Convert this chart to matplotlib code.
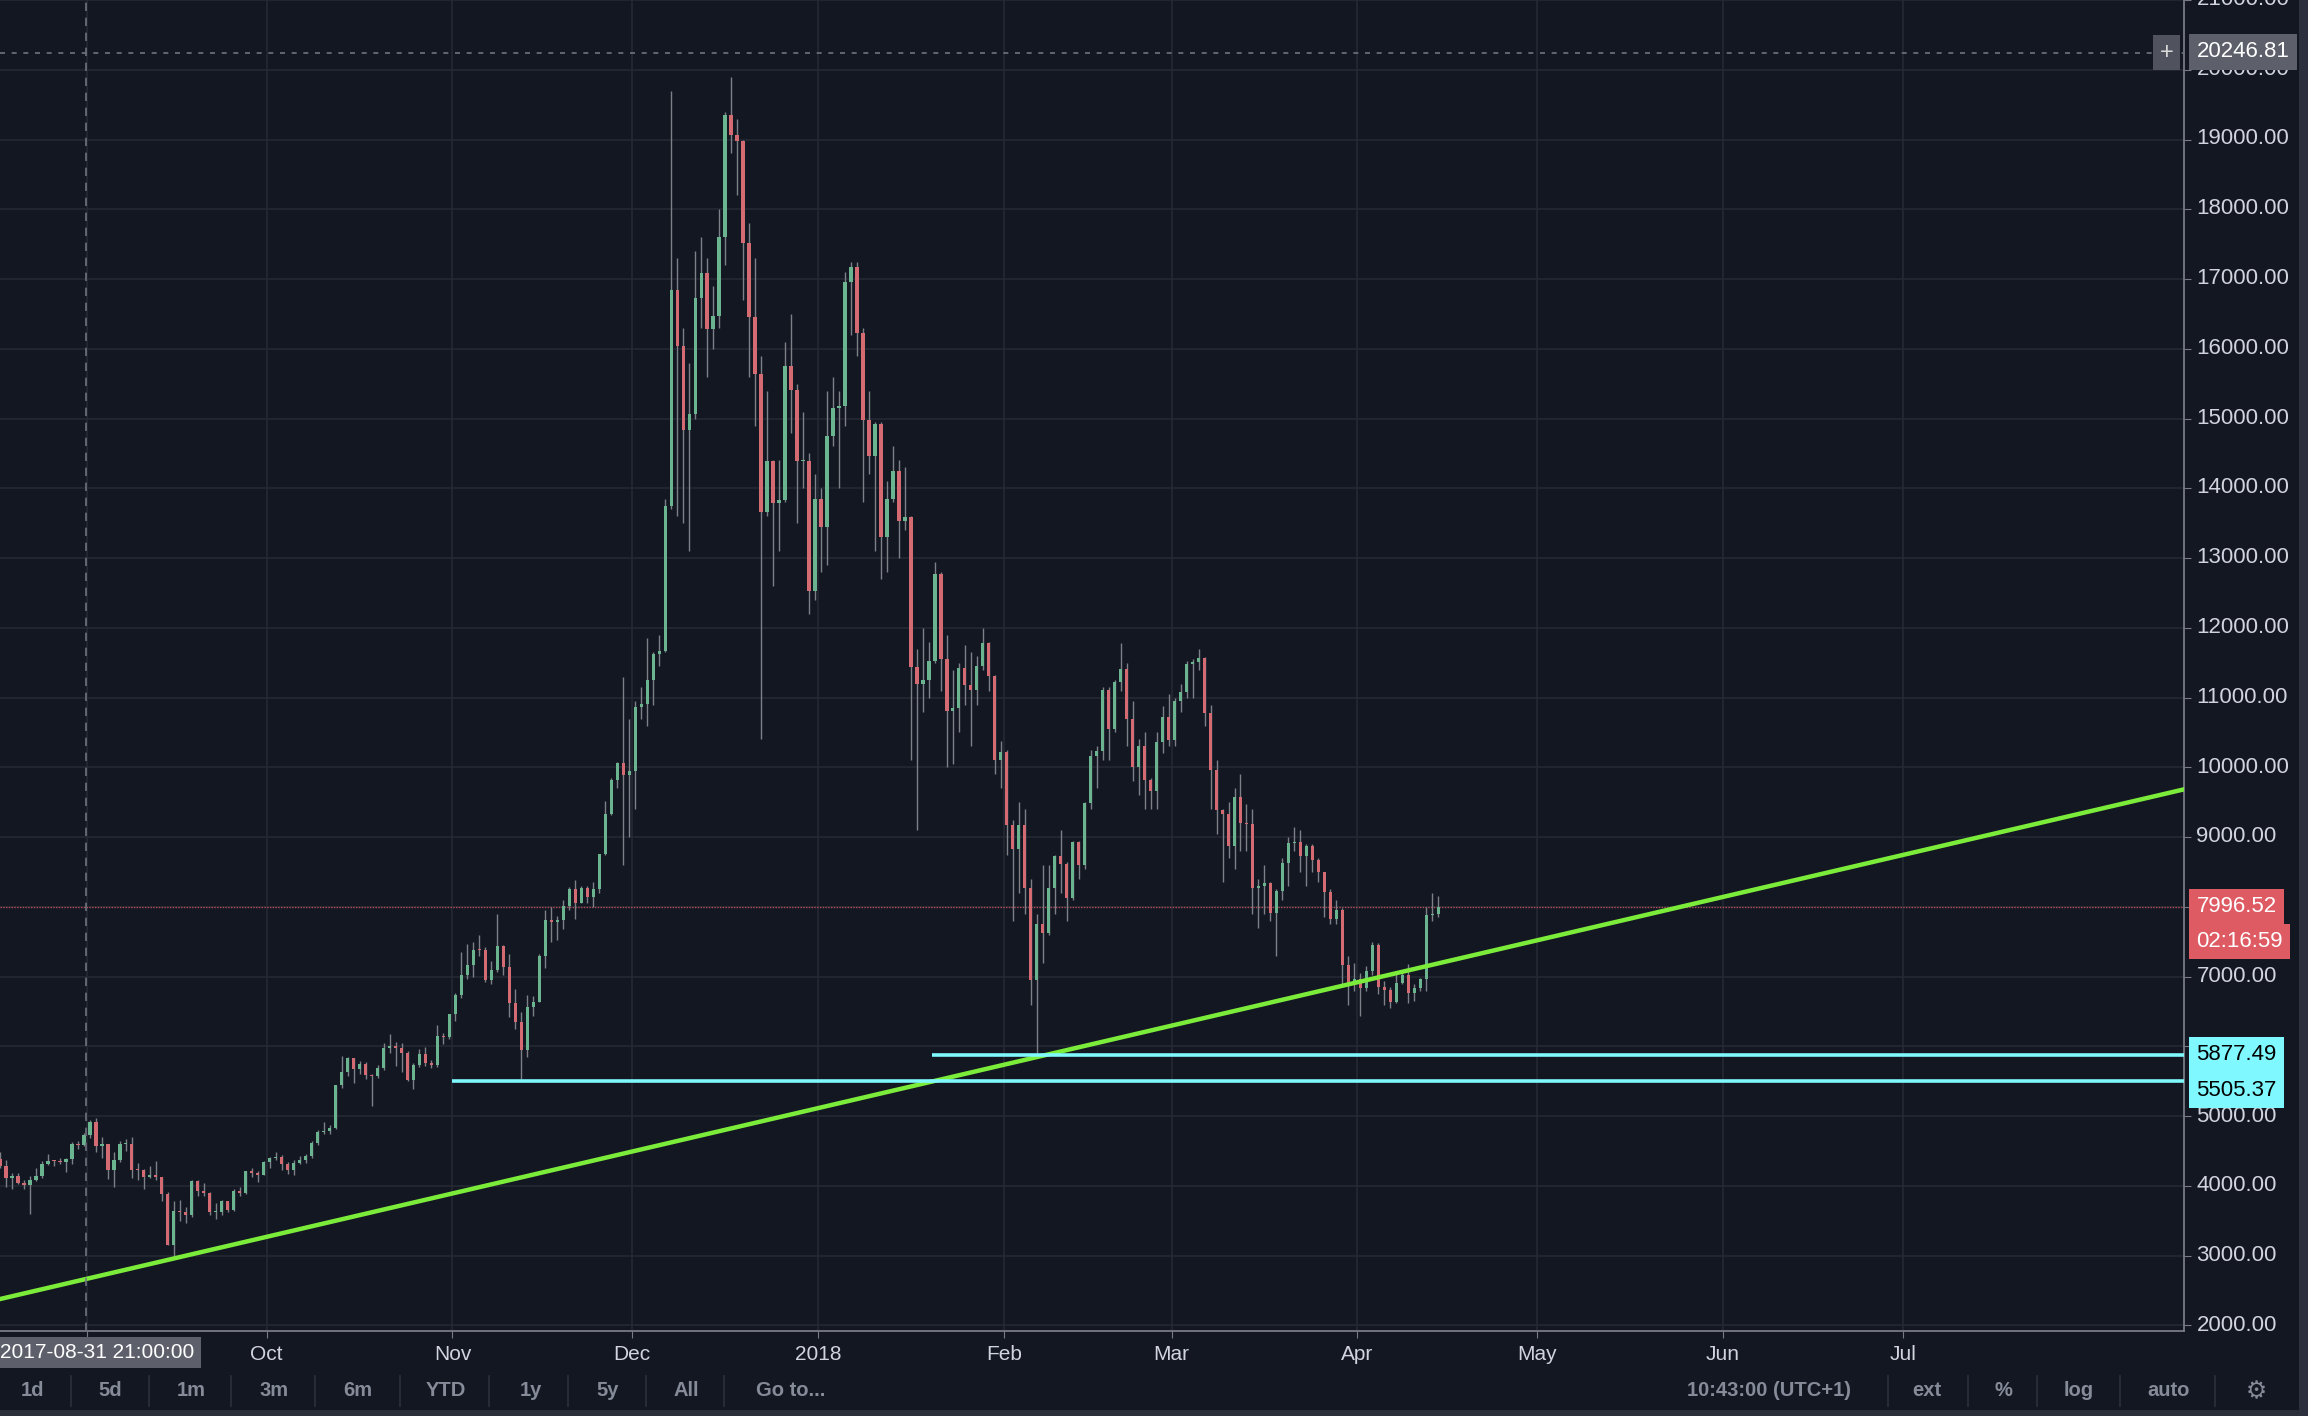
import numpy as np
import pandas as pd
import matplotlib
matplotlib.use("Agg")
import matplotlib.pyplot as plt
import matplotlib.dates as mdates
from matplotlib.lines import Line2D
from matplotlib.patches import Rectangle

plt.rcParams['font.family'] = ['Liberation Sans', 'DejaVu Sans']

# BTCUSD daily candles (open = previous close)
first_open = 4390
closes = [
    4285, 4108, 4139, 4040, 4016, 4089, 4141, 4318, 4364, 4352, 4345, 4390, 4597, 4583, 4735,  # Aug
    4921, 4570, 4603, 4228, 4376, 4597, 4599, 4228, 4226, 4122, 4161, 4130, 3882, 3154, 3637,
    3625, 3582, 4065, 3924, 3905, 3631, 3631, 3780, 3660, 3927, 3892, 4208, 4186, 4163, 4338,  # Sep
    4403, 4409, 4317, 4229, 4328, 4370, 4426, 4611, 4772, 4781, 4826, 5446, 5638, 5831, 5679, 5754,
    5595, 5572, 5695, 5983, 6010, 5983, 5903, 5513, 5733, 5888, 5767, 5732, 6153, 6130, 6468,  # Oct
    6740, 7030, 7161, 7387, 7382, 6958, 7102, 7444, 7143, 6618, 6357, 5950, 6560, 6635, 7301,
    7815, 7786, 7817, 8007, 8255, 8059, 8268, 8148, 8250, 8753, 9330, 9818, 10058, 9888, 9946,  # Nov
    10861, 10912, 11246, 11623, 11667, 13749, 16850, 16047, 14843, 15059, 16732, 17083, 16286, 16467, 17604, 19345,
    19065, 18972, 17523, 16461, 15632, 13664, 14396, 13789, 13833, 15756, 15416, 14392, 14398, 12531, 13850,  # Dec
    13444, 14754, 15156, 15180, 16954, 17172, 16228, 14976, 14468, 14920, 13308, 13842, 14244, 13525, 13582, 11441,
    11199, 11256, 11529, 12778, 11549, 10814, 10858, 11429, 11175, 11104, 11459, 11787, 11306, 10106, 10221,  # Jan
    9171, 8830, 9174, 8277, 6955, 7754, 7621, 8265, 8736, 8621, 8129, 8926, 8598, 9494,
    10166, 10233, 11112, 10551, 11225, 11403, 10690, 10005, 10301, 9813, 9664, 10366, 10725, 10397,  # Feb
    10951, 11086, 11489, 11512, 11573, 10779, 9965, 9395, 9337, 8866, 9578, 9205, 9194, 8269, 8300, 8338,
    7916, 8223, 8630, 8913, 8929, 8728, 8879, 8668, 8495, 8209, 7833, 7954, 7165, 6890, 6973,  # Mar
    6844, 7083, 7456, 6853, 6811, 6636, 6911, 7023, 6770, 6834, 6968, 7889, 7895, 7996.52,  # Apr
]
highs = [
    4480, 4370, 4185, 4190, 4090, 4140, 4255, 4360, 4460, 4375, 4400, 4400, 4630, 4640, 4760,
    4940, 4980, 4700, 4600, 4480, 4650, 4680, 4700, 4330, 4250, 4290, 4360, 4130, 3920, 3790,
    3800, 3700, 4090, 4090, 4040, 3920, 3760, 3800, 3770, 3950, 3990, 4220, 4260, 4220, 4360,
    4420, 4480, 4440, 4350, 4370, 4430, 4460, 4640, 4800, 4920, 4880, 5450, 5860, 5850, 5840, 5790,
    5770, 5600, 5730, 6050, 6180, 6070, 6050, 5930, 5760, 5960, 5990, 5800, 6300, 6190, 6470,
    6760, 7350, 7470, 7490, 7600, 7420, 7230, 7900, 7460, 7320, 6820, 6490, 6730, 6720, 7330,
    7960, 8000, 7870, 8100, 8290, 8380, 8300, 8300, 8350, 8760, 9520, 9850, 10080, 11300, 10700,
    10950, 11150, 11850, 11650, 11900, 13850, 19700, 17300, 16300, 15800, 17400, 17600, 17300, 16900, 18000, 19400,
    19900, 19300, 19000, 17800, 17300, 15900, 15400, 14400, 14400, 16100, 16500, 15500, 15100, 14500, 14200,
    14000, 15400, 15600, 15400, 17100, 17250, 17250, 16300, 15400, 14950, 14950, 14100, 14600, 14400, 14300, 13600,
    11700, 12000, 11800, 12950, 12800, 11900, 11400, 11500, 11750, 11650, 11600, 12000, 11800, 11320, 10380,
    10250, 9250, 9500, 9400, 8400, 7900, 8600, 8600, 8750, 9100, 8650, 8950, 8950, 9500,
    10250, 10300, 11150, 11150, 11250, 11780, 11500, 10950, 10400, 10500, 9850, 10500, 10880, 11050,
    11000, 11200, 11530, 11550, 11700, 11580, 10900, 10100, 9400, 9500, 9700, 9900, 9480, 9400, 8400, 8600,
    8350, 8250, 8700, 9000, 9150, 9100, 8900, 8900, 8700, 8500, 8250, 8100, 7980, 7300, 7200,
    7050, 7150, 7500, 7480, 6940, 6850, 7080, 7100, 7180, 6900, 6980, 8000, 8200, 8150,
]
lows = [
    4260, 3980, 3960, 4030, 3950, 3600, 4070, 4110, 4300, 4290, 4320, 4200, 4310, 4530, 4570,
    4690, 4480, 4400, 4100, 3980, 4350, 4500, 4110, 4090, 3950, 4110, 4080, 3780, 3150, 2970,
    3500, 3470, 3560, 3860, 3860, 3580, 3520, 3580, 3630, 3640, 3860, 3890, 4130, 4050, 4150,
    4260, 4370, 4230, 4170, 4150, 4320, 4330, 4400, 4580, 4740, 4750, 4820, 5400, 5570, 5480, 5610,
    5530, 5150, 5550, 5660, 5900, 5720, 5640, 5500, 5390, 5700, 5720, 5690, 5700, 6030, 6100,
    6370, 6700, 6960, 6990, 7290, 6930, 6900, 7070, 7030, 6420, 6250, 5530, 5850, 6430, 6630,
    7130, 7500, 7520, 7690, 7950, 7820, 8050, 8050, 8000, 8200, 8750, 9320, 9700, 8600, 9000,
    9400, 10690, 10600, 10900, 11450, 11650, 13700, 13600, 13500, 13100, 15000, 16300, 15600, 16000, 16300, 17200,
    18800, 18200, 16700, 15600, 14900, 10400, 13600, 12600, 13100, 13800, 14800, 13500, 14000, 12200, 12400,
    12800, 12900, 14600, 14000, 14900, 16200, 15900, 13800, 14200, 13100, 12700, 12800, 13800, 13000, 13400, 10100,
    9100, 10800, 11000, 11500, 11100, 10000, 10050, 10500, 10900, 10300, 10900, 11400, 11100, 9900, 9700,
    8750, 7800, 8200, 7900, 6600, 5900, 7200, 7600, 7900, 8200, 7800, 8100, 8400, 8550,
    9400, 9700, 10100, 10100, 10500, 11100, 10300, 9800, 9600, 9400, 9400, 9400, 10200, 10300,
    10300, 10800, 11000, 11000, 11400, 10600, 9400, 9050, 8350, 8700, 8550, 8800, 8800, 7900, 7700, 7900,
    7800, 7300, 8100, 8300, 8800, 8500, 8300, 8500, 8350, 7850, 7750, 7750, 6900, 6600, 6800,
    6430, 6800, 7030, 6750, 6600, 6550, 6620, 6900, 6620, 6650, 6800, 6800, 7800, 7850,
]
dates = pd.date_range("2017-08-17", periods=len(closes), freq="D")

last_price = 7996.52
countdown = "02:16:59"
support_levels = [5877.49, 5505.37]
support_starts = ["2018-01-20", "2017-11-01"]
trend_points = [("2017-09-15", 2950), ("2018-04-10", 7100)]
cross_time = "2017-08-31 21:00"
cross_price = 20246.81
cross_label = "2017-08-31 21:00:00"
x_range = ("2017-08-17 12:00", "2018-08-17")
y_range = (1926, 20990)
price_ticks = np.arange(2000, 22000, 1000)
month_ticks = pd.date_range("2017-09-01", "2018-07-01", freq="MS")
left_buttons = ["1d", "5d", "1m", "3m", "6m", "YTD", "1y", "5y", "All", "Go to..."]
right_buttons = ["10:43:00 (UTC+1)", "ext", "%", "log", "auto"]

# colours
BG = "#131722"
GRID = "#262a35"
AXIS = "#787b86"
TXT = "#d1d4dc"
BTN = "#868b99"
UP, DOWN, WICK = "#6ab48f", "#d46a72", "#7e8087"

W, H = 1568.0, 962.0  # layout reference grid
fig = plt.figure(figsize=(23.08, 14.16), dpi=100, facecolor=BG)
ax = fig.add_axes([0, 1 - 904 / H, 1484 / W, 904 / H], facecolor=BG)
pax = fig.add_axes([1484 / W, 1 - 904 / H, 78 / W, 904 / H], facecolor="none")

x = mdates.date2num(dates) + 0.5
c = np.array(closes, dtype=float)
o = np.concatenate([[first_open], c[:-1]])
hi = np.array(highs, dtype=float)
lo = np.array(lows, dtype=float)
col = np.where(c >= o, UP, DOWN)

ax.vlines(x, lo, hi, color=WICK, lw=1.0, zorder=3)
ax.bar(x, np.maximum(np.abs(c - o), 15), bottom=np.minimum(o, c), width=0.55,
       color=col, edgecolor="none", zorder=4)

xmin, xmax = mdates.date2num(pd.Timestamp(x_range[0])), mdates.date2num(pd.Timestamp(x_range[1]))
ax.set_xlim(xmin, xmax)
ax.set_ylim(*y_range)
pax.set_ylim(*y_range)
pax.set_xlim(0, 1)
pax.axis("off")

# grid
ax.set_yticks(price_ticks)
ax.set_xticks(mdates.date2num(month_ticks))
# the Sep label sits under the crosshair time badge
ax.set_xticklabels(["" if d.month == 9 else ("2018" if d.month == 1 else d.strftime("%b"))
                    for d in month_ticks])
ax.grid(True, color=GRID, lw=1.1, zorder=0)
for s in ["top", "left"]:
    ax.spines[s].set_visible(False)
for s in ["bottom", "right"]:
    ax.spines[s].set_color(AXIS)
    ax.spines[s].set_linewidth(1.3)
ax.yaxis.tick_right()
ax.tick_params(axis="y", length=5, color=AXIS, labelright=False, labelleft=False)
ax.tick_params(axis="x", length=5, color=AXIS, labelsize=15, labelcolor=TXT, pad=5)

# price scale labels
for p in price_ticks:
    pax.text(0.105, p, f"{p:.2f}", color=TXT, fontsize=16, ha="left", va="center", clip_on=True)

# trend line and supports
t_pts = [(mdates.date2num(pd.Timestamp(d)), v) for d, v in trend_points]
ax.axline(t_pts[0], t_pts[1], color="#7cec3a", lw=3.2, zorder=5)
for lvl, st in zip(support_levels, support_starts):
    ax.hlines(lvl, mdates.date2num(pd.Timestamp(st)), xmax, color="#7ff9ff", lw=2.6, zorder=5)

# last price line
ax.axhline(last_price, color="#e0585f", lw=1.0, ls=(0, (1, 1)), alpha=0.75, zorder=2)

# crosshair
ct = mdates.date2num(pd.Timestamp(cross_time))
ax.axvline(ct, color="#6f7380", lw=1.2, ls=(0, (5, 4)), zorder=6)
ax.axhline(cross_price, color="#6f7380", lw=1.2, ls=(0, (3, 4)), zorder=6)


# price-scale badges
def badge(y, text, fc, tc, dy=0):
    pax.annotate(text, xy=(0.105, y), xycoords=("axes fraction", "data"),
                 xytext=(0, dy), textcoords="offset points",
                 ha="left", va="center", fontsize=16, color=tc, zorder=10,
                 annotation_clip=False,
                 bbox=dict(boxstyle="square,pad=0.33", fc=fc, ec="none"))


badge(cross_price, f"{cross_price:.2f}", "#5d606b", "white")
badge(last_price, f"{last_price:.2f}", "#de5b63", "white")
badge(last_price, countdown, "#de5b63", "white", dy=-25)
badge(support_levels[0], f"{support_levels[0]:.2f}", "#7ff9ff", "black")
badge(support_levels[1], f"{support_levels[1]:.2f}", "#7ff9ff", "black", dy=-7)

ax.annotate("+", xy=(1472 / 1484, cross_price), xycoords=("axes fraction", "data"),
            ha="center", va="center", fontsize=17, color="#d8d8d8", zorder=10,
            bbox=dict(boxstyle="square,pad=0.28", fc="#50535e", ec="none"))

# crosshair time badge
fig.text(0.0, 1 - 919 / H, cross_label, ha="left", va="center", fontsize=15, color="white",
         bbox=dict(boxstyle="square,pad=0.3", fc="#5d606b", ec="none"), zorder=10)

# bottom toolbar
ty = 1 - 945 / H
left_x = [22, 75, 130, 186, 243, 303, 361, 413, 466, 537]
left_sep = [48, 101, 157, 214, 272, 332, 386, 439, 492]
right_x = [1202, 1309, 1361, 1412, 1473]
right_sep = [1283, 1337, 1384, 1440, 1505]
for lab, px in zip(left_buttons, left_x):
    fig.text(px / W, ty, lab, ha="center", va="center", fontsize=14.5, color=BTN, fontweight="bold")
for lab, px in zip(right_buttons, right_x):
    fig.text(px / W, ty, lab, ha="center", va="center", fontsize=14.5, color=BTN, fontweight="bold")
fig.text(1533 / W, ty, "\u2699", ha="center", va="center", fontsize=17, color=BTN,
         family="DejaVu Sans")
for px in left_sep + right_sep:
    fig.add_artist(Line2D([px / W, px / W], [1 - 955 / H, 1 - 935 / H], color="#2a2e39", lw=1.3))

# frame strips
fig.add_artist(Rectangle((0, 0), 1, 4 / H, transform=fig.transFigure, fc="#2a2e39", ec="none"))
fig.add_artist(Rectangle((1562 / W, 0), 6 / W, 1, transform=fig.transFigure, fc="#2c303c", ec="none"))

fig.savefig("out.png", dpi=100, facecolor=BG)
